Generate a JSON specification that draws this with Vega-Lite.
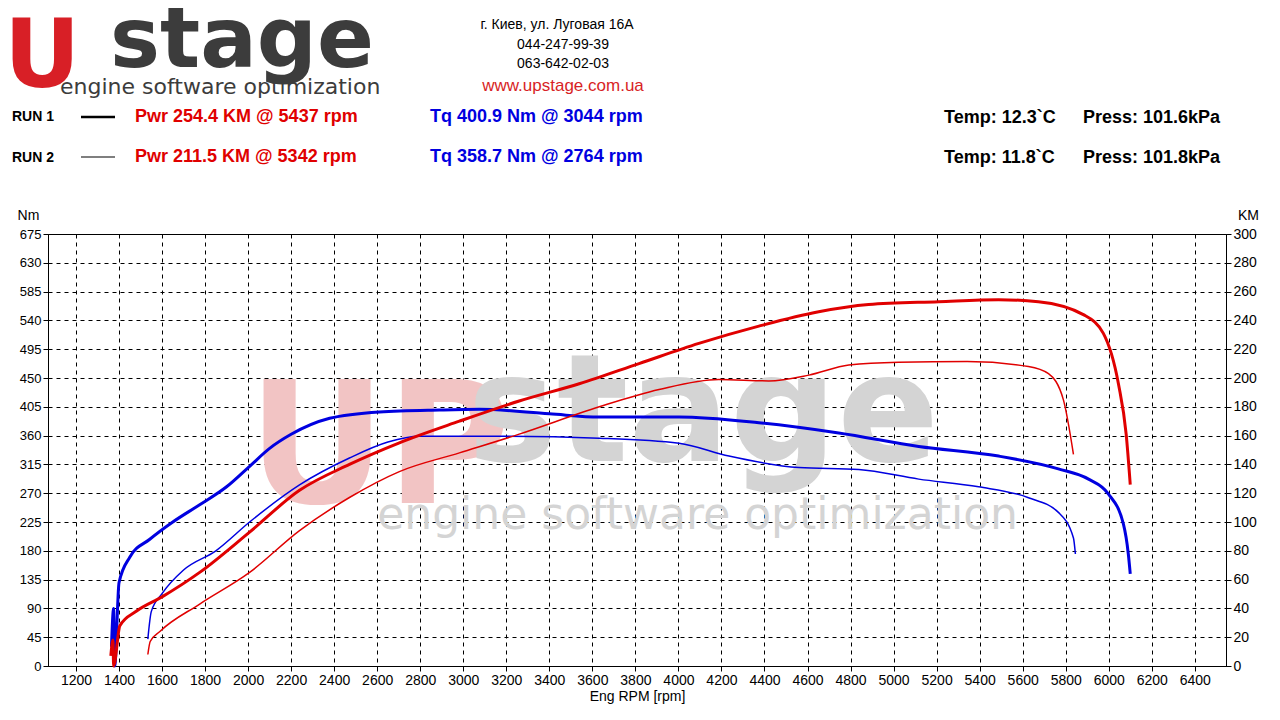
{
  "$schema": "https://vega.github.io/schema/vega-lite/v6.json",
  "background": "white",
  "padding": {"left": 4, "top": 0, "right": 5, "bottom": 0},
  "spacing": 0,
  "resolve": {"scale": {"x": "independent", "y": "independent"}},
  "config": {
    "font": "Arial",
    "view": {"stroke": null},
    "axis": {"labelFont": "Arial", "titleFont": "Arial", "labelFontSize": 14, "labelColor": "#000", "titleFontWeight": "normal", "titleFontSize": 14, "titleColor": "#000", "domainColor": "#000", "tickColor": "#000", "labelOverlap": false}
  },
  "datasets": {
    "curves": [
      {"run": "R1 Tq", "rpm": 1380, "v": 0}, {"run": "R1 Tq", "rpm": 1365, "v": 30}, {"run": "R1 Tq", "rpm": 1375, "v": 90}, {"run": "R1 Tq", "rpm": 1400, "v": 130}, {"run": "R1 Tq", "rpm": 1450, "v": 170}, {"run": "R1 Tq", "rpm": 1543, "v": 198}, {"run": "R1 Tq", "rpm": 1650, "v": 225}, {"run": "R1 Tq", "rpm": 1775, "v": 252}, {"run": "R1 Tq", "rpm": 1900, "v": 280}, {"run": "R1 Tq", "rpm": 2007, "v": 312}, {"run": "R1 Tq", "rpm": 2100, "v": 340}, {"run": "R1 Tq", "rpm": 2200, "v": 362}, {"run": "R1 Tq", "rpm": 2379, "v": 387}, {"run": "R1 Tq", "rpm": 2611, "v": 397}, {"run": "R1 Tq", "rpm": 2889, "v": 400}, {"run": "R1 Tq", "rpm": 3075, "v": 401}, {"run": "R1 Tq", "rpm": 3400, "v": 394}, {"run": "R1 Tq", "rpm": 3632, "v": 389}, {"run": "R1 Tq", "rpm": 4003, "v": 389}, {"run": "R1 Tq", "rpm": 4374, "v": 380}, {"run": "R1 Tq", "rpm": 4745, "v": 364}, {"run": "R1 Tq", "rpm": 5117, "v": 343}, {"run": "R1 Tq", "rpm": 5488, "v": 328}, {"run": "R1 Tq", "rpm": 5766, "v": 308}, {"run": "R1 Tq", "rpm": 5906, "v": 292}, {"run": "R1 Tq", "rpm": 5998, "v": 269}, {"run": "R1 Tq", "rpm": 6068, "v": 222}, {"run": "R1 Tq", "rpm": 6091, "v": 175}, {"run": "R1 Tq", "rpm": 6100, "v": 144},
      {"run": "R1 Pwr", "rpm": 1375, "v": 0}, {"run": "R1 Pwr", "rpm": 1362, "v": 7}, {"run": "R1 Pwr", "rpm": 1372, "v": 18}, {"run": "R1 Pwr", "rpm": 1404, "v": 28}, {"run": "R1 Pwr", "rpm": 1480, "v": 38}, {"run": "R1 Pwr", "rpm": 1600, "v": 48}, {"run": "R1 Pwr", "rpm": 1775, "v": 65}, {"run": "R1 Pwr", "rpm": 2007, "v": 93}, {"run": "R1 Pwr", "rpm": 2239, "v": 122}, {"run": "R1 Pwr", "rpm": 2471, "v": 140}, {"run": "R1 Pwr", "rpm": 2703, "v": 155}, {"run": "R1 Pwr", "rpm": 2982, "v": 170}, {"run": "R1 Pwr", "rpm": 3260, "v": 184}, {"run": "R1 Pwr", "rpm": 3539, "v": 196}, {"run": "R1 Pwr", "rpm": 3817, "v": 210}, {"run": "R1 Pwr", "rpm": 4095, "v": 224}, {"run": "R1 Pwr", "rpm": 4374, "v": 236}, {"run": "R1 Pwr", "rpm": 4652, "v": 246}, {"run": "R1 Pwr", "rpm": 4884, "v": 251}, {"run": "R1 Pwr", "rpm": 5209, "v": 253}, {"run": "R1 Pwr", "rpm": 5488, "v": 254.4}, {"run": "R1 Pwr", "rpm": 5673, "v": 253}, {"run": "R1 Pwr", "rpm": 5882, "v": 244}, {"run": "R1 Pwr", "rpm": 5975, "v": 231}, {"run": "R1 Pwr", "rpm": 6045, "v": 196}, {"run": "R1 Pwr", "rpm": 6081, "v": 161}, {"run": "R1 Pwr", "rpm": 6100, "v": 126},
      {"run": "R2 Tq", "rpm": 1534, "v": 42}, {"run": "R2 Tq", "rpm": 1550, "v": 85}, {"run": "R2 Tq", "rpm": 1600, "v": 113}, {"run": "R2 Tq", "rpm": 1700, "v": 150}, {"run": "R2 Tq", "rpm": 1850, "v": 180}, {"run": "R2 Tq", "rpm": 2007, "v": 225}, {"run": "R2 Tq", "rpm": 2239, "v": 283}, {"run": "R2 Tq", "rpm": 2471, "v": 325}, {"run": "R2 Tq", "rpm": 2650, "v": 350}, {"run": "R2 Tq", "rpm": 2796, "v": 359}, {"run": "R2 Tq", "rpm": 3167, "v": 359}, {"run": "R2 Tq", "rpm": 3632, "v": 356}, {"run": "R2 Tq", "rpm": 4003, "v": 348}, {"run": "R2 Tq", "rpm": 4235, "v": 328}, {"run": "R2 Tq", "rpm": 4560, "v": 310}, {"run": "R2 Tq", "rpm": 4838, "v": 307}, {"run": "R2 Tq", "rpm": 5117, "v": 292}, {"run": "R2 Tq", "rpm": 5395, "v": 280}, {"run": "R2 Tq", "rpm": 5627, "v": 263}, {"run": "R2 Tq", "rpm": 5766, "v": 240}, {"run": "R2 Tq", "rpm": 5836, "v": 200}, {"run": "R2 Tq", "rpm": 5845, "v": 175},
      {"run": "R2 Pwr", "rpm": 1534, "v": 8}, {"run": "R2 Pwr", "rpm": 1545, "v": 17}, {"run": "R2 Pwr", "rpm": 1590, "v": 24}, {"run": "R2 Pwr", "rpm": 1775, "v": 43}, {"run": "R2 Pwr", "rpm": 2007, "v": 65}, {"run": "R2 Pwr", "rpm": 2239, "v": 94}, {"run": "R2 Pwr", "rpm": 2471, "v": 117}, {"run": "R2 Pwr", "rpm": 2703, "v": 135}, {"run": "R2 Pwr", "rpm": 2982, "v": 148}, {"run": "R2 Pwr", "rpm": 3260, "v": 161}, {"run": "R2 Pwr", "rpm": 3632, "v": 180}, {"run": "R2 Pwr", "rpm": 3910, "v": 192}, {"run": "R2 Pwr", "rpm": 4188, "v": 199}, {"run": "R2 Pwr", "rpm": 4420, "v": 198}, {"run": "R2 Pwr", "rpm": 4606, "v": 202}, {"run": "R2 Pwr", "rpm": 4792, "v": 209}, {"run": "R2 Pwr", "rpm": 5024, "v": 211}, {"run": "R2 Pwr", "rpm": 5342, "v": 211.5}, {"run": "R2 Pwr", "rpm": 5627, "v": 208}, {"run": "R2 Pwr", "rpm": 5720, "v": 203}, {"run": "R2 Pwr", "rpm": 5789, "v": 185}, {"run": "R2 Pwr", "rpm": 5836, "v": 147}
    ]
  },
  "vconcat": [
    {
      "width": 1230,
      "height": 202,
      "data": {"values": [{}]},
      "encoding": {
        "x": {"type": "quantitative", "scale": {"domain": [50, 1280]}, "axis": null},
        "y": {"type": "quantitative", "scale": {"domain": [202, 0]}, "axis": null}
      },
      "layer": [
        {"mark": {"type": "text", "text": "U", "color": "#d81f26", "fontSize": 94, "fontWeight": "bold", "font": "DejaVu Sans", "align": "left", "baseline": "alphabetic"}, "encoding": {"x": {"datum": 6}, "y": {"datum": 82}}},
        {"mark": {"type": "text", "text": "stage", "color": "#3c3c3c", "fontSize": 84, "fontWeight": "bold", "font": "DejaVu Sans", "align": "left", "baseline": "alphabetic"}, "encoding": {"x": {"datum": 112}, "y": {"datum": 62}}},
        {"mark": {"type": "text", "text": "engine software optimization", "color": "#3c3c3c", "fontSize": 22, "font": "DejaVu Sans", "align": "left", "baseline": "alphabetic"}, "encoding": {"x": {"datum": 62}, "y": {"datum": 89}}},
        {"mark": {"type": "text", "text": "г. Киев, ул. Луговая 16А", "fontSize": 14, "align": "center"}, "encoding": {"x": {"datum": 559}, "y": {"datum": 20}}},
        {"mark": {"type": "text", "text": "044-247-99-39", "fontSize": 14, "align": "center"}, "encoding": {"x": {"datum": 565}, "y": {"datum": 40}}},
        {"mark": {"type": "text", "text": "063-642-02-03", "fontSize": 14, "align": "center"}, "encoding": {"x": {"datum": 565}, "y": {"datum": 59}}},
        {"mark": {"type": "text", "text": "www.upstage.com.ua", "fontSize": 17, "color": "#d81f26", "align": "center"}, "encoding": {"x": {"datum": 565}, "y": {"datum": 81}}},
        {"mark": {"type": "text", "text": "RUN 1", "fontSize": 14, "fontWeight": "bold", "align": "left"}, "encoding": {"x": {"datum": 14}, "y": {"datum": 112}}},
        {"mark": {"type": "text", "text": "RUN 2", "fontSize": 14, "fontWeight": "bold", "align": "left"}, "encoding": {"x": {"datum": 14}, "y": {"datum": 153}}},
        {"mark": {"type": "rule", "color": "#000", "strokeWidth": 2.5}, "encoding": {"x": {"datum": 83}, "x2": {"datum": 117}, "y": {"datum": 112}}},
        {"mark": {"type": "rule", "color": "#000", "strokeWidth": 1.2}, "encoding": {"x": {"datum": 83}, "x2": {"datum": 117}, "y": {"datum": 152}}},
        {"mark": {"type": "text", "text": "Pwr  254.4 KM @ 5437 rpm", "fontSize": 18, "fontWeight": "bold", "color": "#e00000", "align": "left"}, "encoding": {"x": {"datum": 137}, "y": {"datum": 112}}},
        {"mark": {"type": "text", "text": "Pwr  211.5 KM @ 5342 rpm", "fontSize": 18, "fontWeight": "bold", "color": "#e00000", "align": "left"}, "encoding": {"x": {"datum": 137}, "y": {"datum": 152}}},
        {"mark": {"type": "text", "text": "Tq 400.9 Nm @ 3044 rpm", "fontSize": 18, "fontWeight": "bold", "color": "#0000e0", "align": "left"}, "encoding": {"x": {"datum": 432}, "y": {"datum": 112}}},
        {"mark": {"type": "text", "text": "Tq 358.7 Nm @ 2764 rpm", "fontSize": 18, "fontWeight": "bold", "color": "#0000e0", "align": "left"}, "encoding": {"x": {"datum": 432}, "y": {"datum": 152}}},
        {"mark": {"type": "text", "text": "Temp: 12.3`C", "fontSize": 18, "fontWeight": "bold", "align": "left"}, "encoding": {"x": {"datum": 946}, "y": {"datum": 113}}},
        {"mark": {"type": "text", "text": "Temp: 11.8`C", "fontSize": 18, "fontWeight": "bold", "align": "left"}, "encoding": {"x": {"datum": 946}, "y": {"datum": 153}}},
        {"mark": {"type": "text", "text": "Press: 101.6kPa", "fontSize": 18, "fontWeight": "bold", "align": "left"}, "encoding": {"x": {"datum": 1085}, "y": {"datum": 113}}},
        {"mark": {"type": "text", "text": "Press: 101.8kPa", "fontSize": 18, "fontWeight": "bold", "align": "left"}, "encoding": {"x": {"datum": 1085}, "y": {"datum": 153}}}
      ]
    },
    {
      "width": 1178,
      "height": 432,
      "data": {"name": "curves"},
      "view": {"stroke": "#000"},
      "layer": [
        {
          "encoding": {
            "x": {"type": "quantitative", "scale": {"domain": [1070, 6545], "nice": false}, "title": "Eng RPM [rpm]", "axis": {"values": [1200,1400,1600,1800,2000,2200,2400,2600,2800,3000,3200,3400,3600,3800,4000,4200,4400,4600,4800,5000,5200,5400,5600,5800,6000,6200,6400], "grid": true, "gridDash": [4, 4], "gridColor": "#000", "gridOpacity": 1, "format": "d", "titlePadding": 2}},
            "y": {"type": "quantitative", "scale": {"domain": [0, 675], "nice": false}, "title": "Nm", "axis": {"values": [0,45,90,135,180,225,270,315,360,405,450,495,540,585,630,675], "labelOverlap": false, "labelFontSize": 13, "grid": true, "gridDash": [4, 4], "gridColor": "#000", "gridOpacity": 1, "titleAngle": 0, "titleAnchor": "end", "titleAlign": "center", "titleY": -12, "titleX": -20}}
          },
          "layer": [
            {"data": {"values": [{}]}, "mark": {"type": "text", "text": "UP", "color": "#f2c4c4", "fontSize": 170, "fontWeight": "bold", "font": "DejaVu Sans", "align": "left", "baseline": "alphabetic"}, "encoding": {"x": {"datum": 2000}, "y": {"datum": 255}}},
            {"data": {"values": [{}]}, "mark": {"type": "text", "text": "stage", "color": "#d4d4d4", "fontSize": 150, "fontWeight": "bold", "font": "DejaVu Sans", "align": "left", "baseline": "alphabetic"}, "encoding": {"x": {"datum": 3020}, "y": {"datum": 320}}},
            {"data": {"values": [{}]}, "mark": {"type": "text", "text": "engine software optimization", "color": "#d4d4d4", "fontSize": 44, "font": "DejaVu Sans", "align": "left"}, "encoding": {"x": {"datum": 2600}, "y": {"datum": 235}}},
            {
              "transform": [{"filter": "indexof(datum.run, 'Tq') >= 0"}],
              "mark": {"type": "line", "interpolate": "monotone"},
              "encoding": {
                "x": {"field": "rpm", "type": "quantitative"},
                "y": {"field": "v", "type": "quantitative"},
                "color": {"value": "#0000e0"},
                "strokeWidth": {"field": "run", "type": "nominal", "scale": {"domain": ["R1 Tq", "R2 Tq"], "range": [3, 1.5]}, "legend": null},
                "detail": {"field": "run"}
              }
            }
          ]
        },
        {
          "transform": [{"filter": "indexof(datum.run, 'Pwr') >= 0"}],
          "mark": {"type": "line", "interpolate": "monotone"},
          "encoding": {
            "x": {"field": "rpm", "type": "quantitative"},
            "y": {"field": "v", "type": "quantitative", "scale": {"domain": [0, 300], "nice": false}, "title": "KM", "axis": {"orient": "right", "values": [0,20,40,60,80,100,120,140,160,180,200,220,240,260,280,300], "titleAngle": 0, "titleAlign": "center", "titleY": -12, "titleX": 22}},
            "color": {"value": "#e00000"},
            "strokeWidth": {"field": "run", "type": "nominal", "scale": {"domain": ["R1 Pwr", "R2 Pwr"], "range": [3, 1.5]}, "legend": null},
            "detail": {"field": "run"}
          }
        }
      ],
      "resolve": {"scale": {"y": "independent", "strokeWidth": "independent"}}
    }
  ]
}
